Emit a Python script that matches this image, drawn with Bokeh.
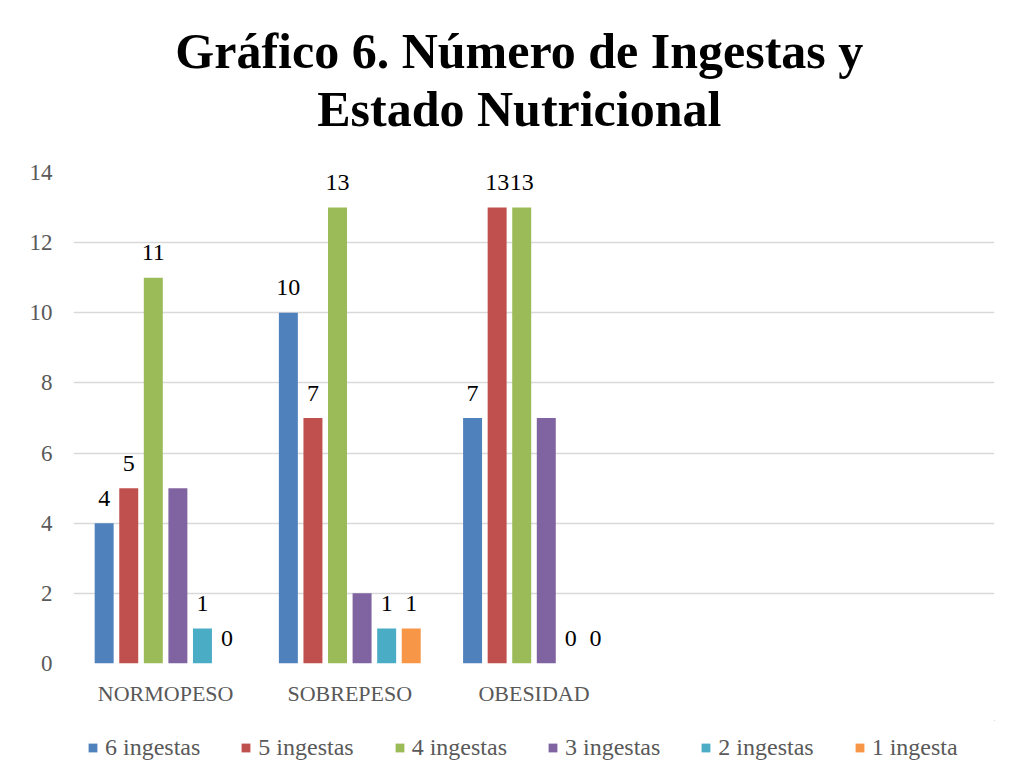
from bokeh.plotting import figure
from bokeh.layouts import column
from bokeh.models import ColumnDataSource, FactorRange, Range1d, Legend, LegendItem, FixedTicker
from bokeh.transform import dodge
from bokeh.core.properties import value
from bokeh.embed import file_html
from bokeh.resources import INLINE

title_lines = ["Gráfico 6. Número de Ingestas y", "Estado Nutricional"]
categories = ["NORMOPESO", "SOBREPESO", "OBESIDAD"]
extra_slots = [" ", "  "]  # empty category slots on the axis
series_names = ["6 ingestas", "5 ingestas", "4 ingestas", "3 ingestas", "2 ingestas", "1 ingesta"]
s6 = [4, 10, 7]
s5 = [5, 7, 13]
s4 = [11, 13, 13]
s3 = [5, 2, 7]
s2 = [1, 1, 0]
s1 = [0, 1, 0]
series_values = [s6, s5, s4, s3, s2, s1]
show_labels = [True, True, True, False, True, True]
colors = ["#4F81BD", "#C0504D", "#9BBB59", "#8064A2", "#4BACC6", "#F79646"]
y_ticks = [0, 2, 4, 6, 8, 10, 12, 14]

FONT = "Liberation Serif"
GRAY = "#595959"
W = 1002

# ---- title strip ----
TH = 150
tf = figure(width=W, height=TH, x_range=Range1d(0, W), y_range=Range1d(0, TH),
            x_axis_type=None, y_axis_type=None, output_backend="svg", toolbar_location=None,
            min_border_left=0, min_border_right=0, min_border_top=0, min_border_bottom=0)
tf.outline_line_color = None
tf.xgrid.visible = False
tf.ygrid.visible = False
tf.text(x=[485, 485], y=[100, 42], text=title_lines,
        text_font=value(FONT), text_font_size="50px", text_font_style="bold",
        text_color="black", text_align="center", text_baseline="alphabetic")

# ---- main chart ----
p = figure(
    x_range=FactorRange(factors=categories + extra_slots),
    y_range=Range1d(0, 14),
    frame_width=921, frame_height=491,
    output_backend="svg", toolbar_location=None,
    min_border_left=73, min_border_right=8, min_border_top=172 - TH, min_border_bottom=57,
)
p.outline_line_color = None

step = 0.1334
bar_w = 0.103
for i, (name, vals, col, lab) in enumerate(zip(series_names, series_values, colors, show_labels)):
    off = (i - 2.5) * step
    src = ColumnDataSource(dict(x=categories, y=vals, t=[str(v) for v in vals]))
    p.vbar(x=dodge("x", off, range=p.x_range), top="y", width=bar_w, source=src,
           fill_color=col, line_color=None)
    if lab:
        p.text(x=dodge("x", off, range=p.x_range), y="y", text="t", source=src,
               text_font=value(FONT), text_font_size="24px", text_color="black",
               text_align="center", text_baseline="alphabetic", y_offset=-25)

p.yaxis.ticker = FixedTicker(ticks=y_ticks)
p.yaxis.axis_line_color = None
p.yaxis.major_tick_line_color = None
p.yaxis.minor_tick_line_color = None
p.yaxis.major_label_text_font = FONT
p.yaxis.major_label_text_font_size = "23px"
p.yaxis.major_label_text_color = GRAY
p.yaxis.major_label_standoff = 15

p.xaxis.axis_line_color = None
p.xaxis.major_tick_line_color = None
p.xaxis.minor_tick_line_color = None
p.xaxis.major_label_text_font = FONT
p.xaxis.major_label_text_font_size = "22px"
p.xaxis.major_label_text_color = GRAY
p.xaxis.major_label_standoff = 11

p.xgrid.grid_line_color = None
p.ygrid.grid_line_color = "#d9d9d9"
p.ygrid.grid_line_width = 1.3

# ---- legend strip ----
lg = figure(width=W, height=50, x_range=Range1d(0, 1), y_range=Range1d(0, 1),
            x_axis_type=None, y_axis_type=None, output_backend="svg", toolbar_location=None,
            min_border_left=0, min_border_right=0, min_border_top=0, min_border_bottom=0)
lg.outline_line_color = None
lg.xgrid.visible = False
lg.ygrid.visible = False
items = []
for name, col in zip(series_names, colors):
    r = lg.vbar(x=[5], top=[5], bottom=[4], width=0.1, fill_color=col, line_color=None)
    items.append(LegendItem(label=name, renderers=[r]))
legend = Legend(items=items, orientation="horizontal", location=(14, 9),
                glyph_width=11, glyph_height=11, label_standoff=7, spacing=40,
                label_text_font=FONT, label_text_font_size="24px", label_text_color=GRAY,
                border_line_color=None, background_fill_alpha=0, padding=0, margin=0)
lg.add_layout(legend, "center")

layout = column(tf, p, lg, spacing=0)
open("out.html", "w").write(file_html(layout, INLINE))
